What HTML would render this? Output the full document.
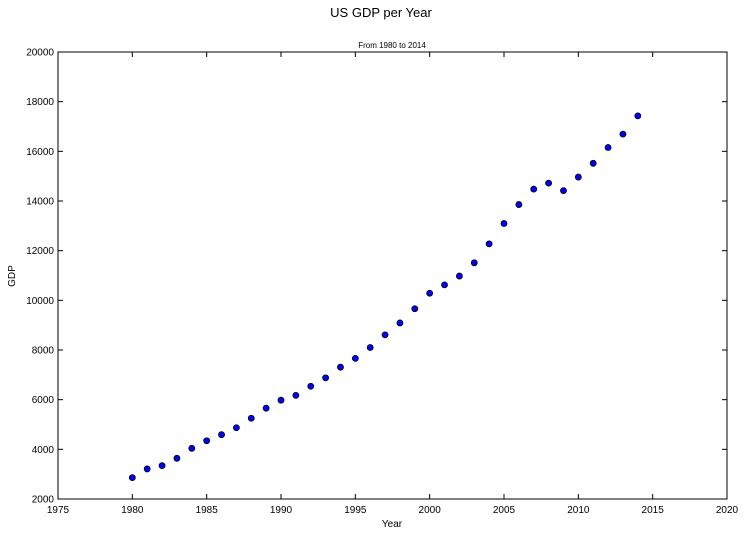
<!DOCTYPE html>
<html><head><meta charset="utf-8"><style>
body{margin:0;background:#fff;font-family:"Liberation Sans",sans-serif}
svg{display:block}
</style></head><body>
<svg id="chart" width="747" height="535" font-family="Liberation Sans, sans-serif">
<rect width="747" height="535" fill="#fff"/>
<text x="381" y="17" font-size="13" text-anchor="middle">US GDP per Year</text>
<text x="392" y="48" font-size="8" text-anchor="middle">From 1980 to 2014</text>
<text x="392" y="527" font-size="10" text-anchor="middle">Year</text>
<text x="15" y="276" font-size="10" text-anchor="middle" transform="rotate(-90 15 276)">GDP</text>
<g id="ticks"></g>
<g id="points"></g>
<rect x="58" y="52" width="669" height="447" fill="none" stroke="#000" stroke-width="1"/>
</svg>
<script>
const years=[1980,1981,1982,1983,1984,1985,1986,1987,1988,1989,1990,1991,1992,1993,1994,1995,1996,1997,1998,1999,2000,2001,2002,2003,2004,2005,2006,2007,2008,2009,2010,2011,2012,2013,2014];
const gdp=[2862,3211,3345,3638,4041,4347,4590,4870,5252,5657,5979,6174,6539,6879,7308,7664,8100,8609,9089,9661,10285,10622,10978,11511,12275,13094,13856,14478,14719,14419,14964,15518,16155,16692,17428];
const xTicks=[1975,1980,1985,1990,1995,2000,2005,2010,2015,2020];
const yTicks=[2000,4000,6000,8000,10000,12000,14000,16000,18000,20000];
const L=58,R=727,T=52,B=499;
const xS=v=>L+(v-1975)/(2020-1975)*(R-L);
const yS=v=>B-(v-2000)/(20000-2000)*(B-T);
const NS="http://www.w3.org/2000/svg";
const tg=document.getElementById('ticks'),pg=document.getElementById('points');
function mk(t,a,p){const e=document.createElementNS(NS,t);for(const k in a)e.setAttribute(k,a[k]);p.appendChild(e);return e;}
xTicks.forEach(v=>{const x=xS(v);
mk('line',{x1:x,x2:x,y1:B,y2:B-5,stroke:'#000'},tg);
mk('line',{x1:x,x2:x,y1:T,y2:T+5,stroke:'#000'},tg);
const t=mk('text',{x:x,y:B+14,'font-size':10,'text-anchor':'middle'},tg);t.textContent=v;

});
yTicks.forEach(v=>{const y=yS(v);
mk('line',{x1:L,x2:L+5,y1:y,y2:y,stroke:'#000'},tg);
mk('line',{x1:R,x2:R-5,y1:y,y2:y,stroke:'#000'},tg);
const t=mk('text',{x:L-4,y:y+3.5,'font-size':10,'text-anchor':'end'},tg);t.textContent=v;

});
years.forEach((yr,i)=>{const c=mk('circle',{cx:xS(yr),cy:yS(gdp[i]),r:3,fill:'#0000ff',stroke:'#000','stroke-width':0.8},pg);

});
</script>
</body></html>
